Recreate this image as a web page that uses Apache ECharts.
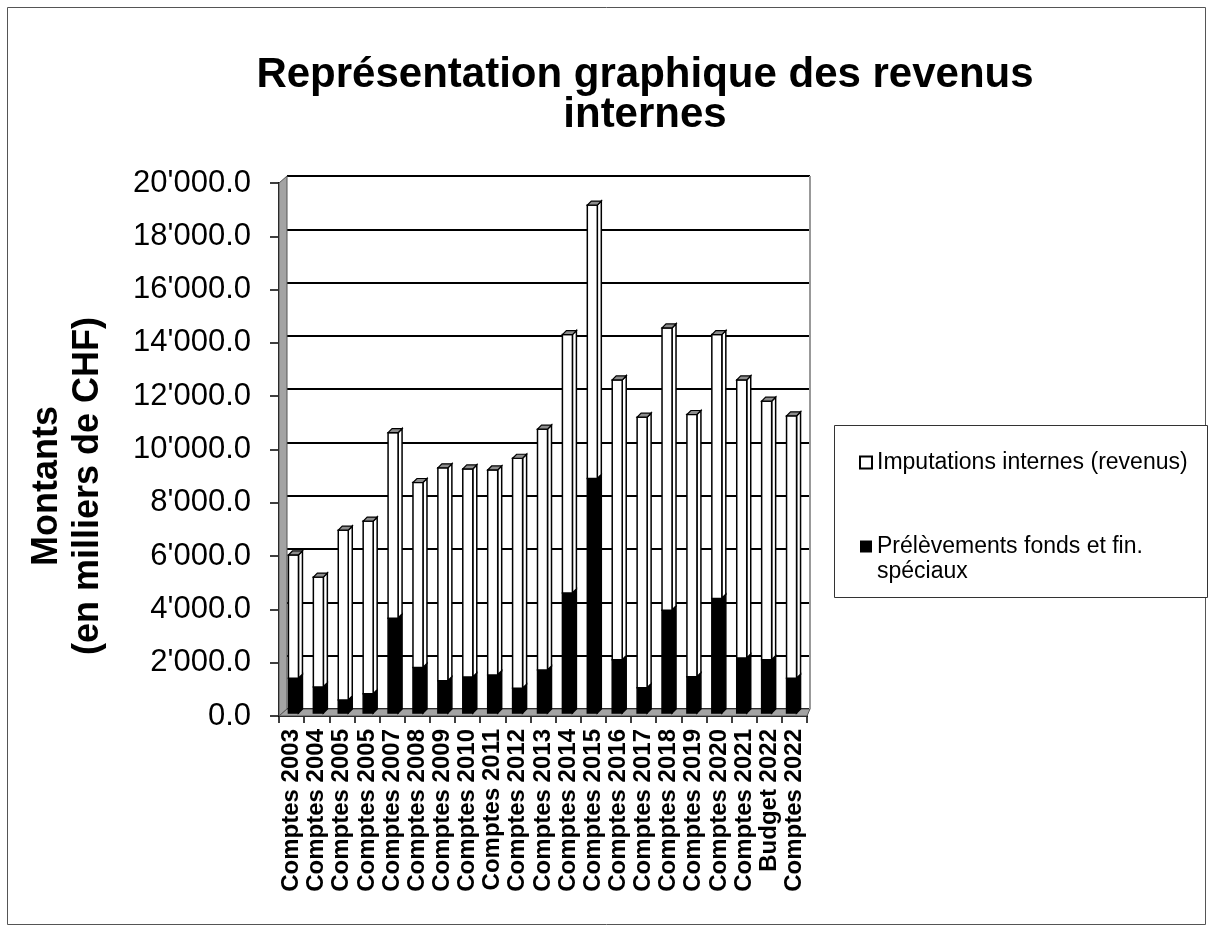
<!DOCTYPE html>
<html>
<head>
<meta charset="utf-8">
<title>Revenus internes</title>
<script src="https://cdn.jsdelivr.net/npm/echarts@6/dist/echarts.min.js"></script>
<style>
  html, body { margin: 0; padding: 0; background: #fff; }
  #chart { width: 1213px; height: 931px; }
</style>
</head>
<body>
<div id="chart"></div>
<script>
// categories (x axis)
var categories = ['Comptes 2003', 'Comptes 2004', 'Comptes 2005', 'Comptes 2005', 'Comptes 2007',
  'Comptes 2008', 'Comptes 2009', 'Comptes 2010', 'Comptes 2011', 'Comptes 2012', 'Comptes 2013',
  'Comptes 2014', 'Comptes 2015', 'Comptes 2016', 'Comptes 2017', 'Comptes 2018', 'Comptes 2019',
  'Comptes 2020', 'Comptes 2021', 'Budget 2022', 'Comptes 2022'];

// Prélèvements fonds et fin. spéciaux (black, bottom)
var prelevements = [1300, 980, 490, 720, 3560, 1710, 1210, 1350, 1430, 930, 1610,
  4500, 8800, 2000, 950, 3860, 1360, 4300, 2060, 2000, 1300];

// Imputations internes (revenus) (white, on top)
var imputations = [4630, 4120, 6370, 6480, 6960, 6940, 7990, 7810, 7690, 8630, 9040,
  9700, 10260, 10500, 10150, 10590, 9840, 9900, 10440, 9700, 9850];

var yTicks = { min: 0, max: 20000, interval: 2000 };

var legendNames = ['Imputations internes (revenus)', 'Prélèvements fonds et fin. spéciaux'];

var FONT = '"Liberation Sans", Arial, sans-serif';

// layout of the pseudo 3D box
var back = { left: 287, top: 176, width: 523, height: 533 };   // back wall
var front = { left: 279, top: 183, width: 528, height: 533 };  // front axes
var DX = -6, DY = 4;   // bars plane vs back wall
var HALF = 5, DEPTH = 4;

function fmt(v) {
  var s = Math.round(v).toString();
  s = s.replace(/\B(?=(\d{3})+(?!\d))/g, "'");
  return s + '.0';
}

var lowData = [], highData = [];
for (var i = 0; i < categories.length; i++) {
  lowData.push([i, 0, prelevements[i]]);
  highData.push([i, prelevements[i], prelevements[i] + imputations[i]]);
}

function makeRender(isTop) {
  return function (params, api) {
    var idx = api.value(0);
    var x = api.coord([idx, 0])[0] + DX;
    var y0 = api.coord([idx, api.value(1)])[1] + DY;
    var y1 = api.coord([idx, api.value(2)])[1] + DY;
    var fill = isTop ? '#ffffff' : '#000000';
    var kids = [];
    kids.push({
      type: 'polygon',
      shape: { points: [[x + HALF, y1], [x + HALF + DEPTH, y1 - DEPTH], [x + HALF + DEPTH, y0 - DEPTH], [x + HALF, y0]] },
      style: { fill: fill, stroke: '#000', lineWidth: 1.5 }
    });
    kids.push({
      type: 'rect',
      shape: { x: x - HALF, y: y1, width: HALF * 2, height: y0 - y1 },
      style: { fill: fill, stroke: '#000', lineWidth: 1.5 }
    });
    if (isTop) {
      kids.push({
        type: 'polygon',
        shape: { points: [[x - HALF, y1], [x + HALF, y1], [x + HALF + DEPTH, y1 - DEPTH], [x - HALF + DEPTH, y1 - DEPTH]] },
        style: { fill: '#8c8c8c', stroke: '#000', lineWidth: 1.2 }
      });
    }
    return { type: 'group', children: kids };
  };
}

var chart = echarts.init(document.getElementById('chart'));

var option = {
  backgroundColor: '#fff',
  animation: false,
  title: {
    text: 'Représentation graphique des revenus\ninternes',
    left: 640,
    top: 50,
    textAlign: 'center',
    textStyle: { fontFamily: FONT, fontSize: 42, fontWeight: 'bold', color: '#000', lineHeight: 40, align: 'center' }
  },
  legend: {
    orient: 'vertical',
    left: 854,
    top: 446,
    itemWidth: 12,
    itemHeight: 12,
    itemGap: 36,
    icon: 'rect',
    selectedMode: false,
    textStyle: {
      fontFamily: FONT, fontSize: 23, color: '#000',
      rich: {
        t: { fontFamily: FONT, fontSize: 23, color: '#000', lineHeight: 25 },
        g: { fontSize: 23, lineHeight: 25 }
      }
    },
    formatter: function (name) {
      if (name === legendNames[1]) {
        return '{g| }\n{t|Prélèvements fonds et fin.}\n{t|spéciaux}';
      }
      return '{t|' + name + '}';
    },
    data: [
      { name: legendNames[0], itemStyle: { color: '#fff', borderColor: '#000', borderWidth: 2 } },
      { name: legendNames[1], itemStyle: { color: '#000' } }
    ]
  },
  grid: [
    { left: back.left, top: back.top, width: back.width, height: back.height },
    { left: front.left, top: front.top, width: front.width, height: front.height }
  ],
  xAxis: [
    { type: 'category', gridIndex: 0, data: categories, show: false },
    {
      type: 'category', gridIndex: 1, data: categories,
      axisLine: { lineStyle: { color: '#000', width: 2 } },
      axisTick: { show: true, length: 7, lineStyle: { color: '#000', width: 1.5 } },
      axisLabel: { rotate: 90, interval: 0, margin: 13, fontFamily: FONT, fontSize: 24, fontWeight: 'bold', color: '#000' }
    }
  ],
  yAxis: [
    {
      type: 'value', gridIndex: 0, min: yTicks.min, max: yTicks.max, interval: yTicks.interval,
      axisLine: { show: false }, axisTick: { show: false }, axisLabel: { show: false },
      splitLine: { lineStyle: { color: '#000', width: 2 } }
    },
    {
      type: 'value', gridIndex: 1, min: yTicks.min, max: yTicks.max, interval: yTicks.interval,
      axisLine: { show: true, lineStyle: { color: '#000', width: 2 } },
      axisTick: { show: true, length: 9, lineStyle: { color: '#000', width: 1.5 } },
      axisLabel: { margin: 28, fontFamily: FONT, fontSize: 31, color: '#000', formatter: fmt },
      splitLine: { show: false }
    }
  ],
  graphic: [
    { type: 'rect', z: -10, shape: { x: 7.5, y: 7.5, width: 1198, height: 917 }, style: { fill: 'none', stroke: '#555', lineWidth: 1 } },
    { type: 'rect', z: -5, shape: { x: 834.5, y: 425.5, width: 373, height: 172 }, style: { fill: '#fff', stroke: '#333', lineWidth: 1 } },
    // axis title
    { type: 'text', x: 68, y: 486, rotation: Math.PI / 2,
      style: { text: 'Montants\n(en milliers de CHF)', font: 'bold 36px ' + FONT, fill: '#000', align: 'center', verticalAlign: 'middle', lineHeight: 41 } },
    // left wall
    { type: 'polygon', z: 1, shape: { points: [[front.left, front.top], [back.left, back.top], [back.left, back.top + back.height], [front.left, front.top + front.height]] },
      style: { fill: '#a3a3a3', stroke: '#555', lineWidth: 1 } },
    // floor
    { type: 'polygon', z: 1, shape: { points: [[front.left, front.top + front.height], [back.left, back.top + back.height], [back.left + back.width, back.top + back.height], [front.left + front.width, front.top + front.height]] },
      style: { fill: '#a3a3a3', stroke: '#555', lineWidth: 1 } },
    // right edge of back wall
    { type: 'line', z: 1, shape: { x1: back.left + back.width, y1: back.top, x2: back.left + back.width, y2: back.top + back.height },
      style: { stroke: '#999', lineWidth: 2 } }
  ],
  series: [
    {
      name: legendNames[1], type: 'custom', xAxisIndex: 0, yAxisIndex: 0, z: 5,
      itemStyle: { color: '#000' },
      renderItem: makeRender(false), encode: { x: 0, y: [1, 2] }, data: lowData
    },
    {
      name: legendNames[0], type: 'custom', xAxisIndex: 0, yAxisIndex: 0, z: 5,
      itemStyle: { color: '#fff', borderColor: '#000', borderWidth: 2 },
      renderItem: makeRender(true), encode: { x: 0, y: [1, 2] }, data: highData
    }
  ]
};

chart.setOption(option);
</script>
</body>
</html>
